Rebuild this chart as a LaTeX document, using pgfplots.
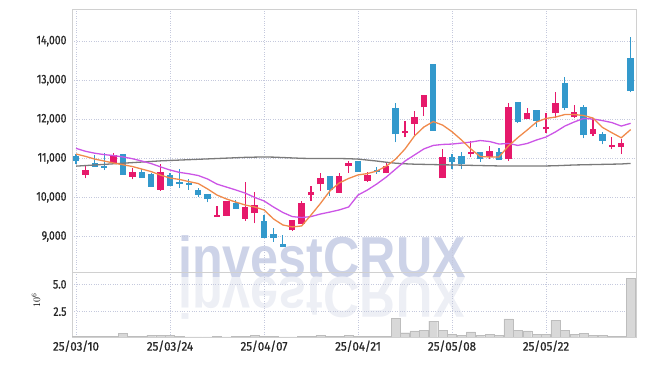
\documentclass[border=0pt]{standalone}
\usepackage{fontspec}
\usepackage{graphicx}
\usepackage{pgfplots}
\usepackage{pgfplotstable}
\pgfplotsset{compat=1.18}
\newfontfamily\tickfont{Fira Sans}[FakeStretch=0.84, FakeBold=0.8]
\newfontfamily\xtickfont{Fira Sans}[FakeStretch=0.93, FakeBold=0.8]
\newfontfamily\wmfont{Liberation Sans}
\definecolor{cpink}{HTML}{E6196B}
\definecolor{cblue}{HTML}{3399CC}
\definecolor{corange}{HTML}{F08A4B}
\definecolor{cpurple}{HTML}{CC55E6}
\definecolor{cgray}{HTML}{7A7A7A}
\definecolor{cgrid}{HTML}{C5C9DD}
\definecolor{cframe}{HTML}{D0D0D0}
\definecolor{wm}{HTML}{CDD3E8}
\definecolor{wmr}{HTML}{EDEFF5}
\definecolor{cvol}{HTML}{D8D8D8}
\definecolor{cvolb}{HTML}{BDBDBD}

% up candles (close > open)
\pgfplotstableread{
x O H L C
1 10580 10810 10490 10700
4 10870 11140 10870 11085
6 10530 10745 10460 10650
9 10190 10850 10165 10660
15 9500 9780 9500 9550
16 9525 9910 9520 9908
18 9455 10400 9400 9762
19 9600 10130 9338 9813
23 9166 9422 9140 9422
24 9320 9908 9320 9849
25 10054 10292 9908 10138
26 10335 10616 10171 10496
28 10120 10616 10120 10547
29 10810 10923 10632 10872
31 10427 10657 10400 10573
33 10616 10872 10616 10803
35 11655 11954 11537 11706
36 11885 12210 11596 12056
37 12304 12619 12082 12619
39 10488 11246 10488 11026
42 11110 11442 11026 11169
44 11026 11315 10982 11194
46 10974 12422 10930 12320
48 11997 12294 11997 12151
50 11740 12166 11655 11808
51 12151 12703 12023 12422
53 12064 12363 12023 12192
55 11621 12023 11570 11750
57 11284 11553 11230 11330
58 11284 11486 11110 11384
}\uptab

% down candles (close < open)
\pgfplotstableread{
x O H L C
0 11060 11100 10850 10930
2 10880 11075 10785 10785
3 10810 11130 10700 10760
5 11110 11110 10580 10580
7 10650 10730 10500 10500
8 10600 10620 10275 10275
10 10575 10615 10300 10300
11 10400 10720 10250 10350
12 10375 10460 10200 10320
13 10190 10235 10020 10060
14 10095 10095 9875 9950
17 9865 9935 9710 9710
20 9404 9550 8969 8969
21 9065 9225 8865 8970
22 8815 9040 8730 8740
27 10547 10547 10036 10189
30 10940 10940 10657 10657
32 10693 10770 10600 10640
34 12287 12407 11409 11614
38 13412 13412 11706 11706
40 11026 11110 10720 10898
41 11059 11169 10720 10854
43 11169 11169 10913 10974
45 11169 11256 10957 10957
47 12448 12448 11895 11928
49 12235 12235 11808 11962
52 12934 13072 12235 12279
54 12320 12363 11511 11596
56 11621 11680 11358 11450
59 13558 14095 12688 12721
}\downtab

% moving averages
\pgfplotstableread{
x ma5 ma20 ma120
0 11110 11255 10800
1 11050 11180 10815
2 10980 11130 10830
3 10930 11095 10845
4 10880 11070 10860
5 10835 11035 10875
6 10790 10990 10890
7 10725 10930 10905
8 10660 10865 10920
9 10570 10780 10935
10 10495 10700 10945
11 10460 10640 10955
12 10405 10605 10965
13 10355 10560 10975
14 10215 10470 10985
15 10060 10340 10995
16 9960 10265 11005
17 9880 10190 11015
18 9805 10110 11025
19 9755 10000 11030
20 9680 9910 11035
21 9450 9755 11030
22 9295 9615 11020
23 9245 9510 11010
24 9270 9485 11000
25 9550 9510 10995
26 9845 9575 10995
27 10165 9625 10995
28 10370 9680 10995
29 10485 9755 10990
30 10575 10060 10980
31 10610 10190 10955
32 10675 10345 10930
33 10800 10520 10900
34 10980 10725 10875
35 11240 10930 10860
36 11570 11085 10850
37 11800 11240 10845
38 11940 11330 10840
39 11850 11355 10835
40 11680 11365 10830
41 11470 11390 10825
42 11240 11415 10820
43 11045 11455 10815
44 11035 11430 10810
45 11035 11365 10805
46 11315 11380 10805
47 11530 11330 10805
48 11725 11380 10805
49 11930 11470 10805
50 12020 11545 10805
51 12055 11675 10810
52 12120 11825 10820
53 12120 11930 10830
54 12095 12020 10835
55 12030 12005 10840
56 11790 11965 10845
57 11655 11915 10850
58 11525 11825 10855
59 11735 11895 10870
}\matab

% volume in millions
\pgfplotstableread{
x v
0 0.21
1 0.21
2 0.21
3 0.21
4 0.22
5 0.52
6 0.21
7 0.21
8 0.33
9 0.33
10 0.30
11 0.21
12 0.20
13 0.20
14 0.20
15 0.21
16 0.20
17 0.21
18 0.24
19 0.33
20 0.24
21 0.21
22 0.20
23 0.20
24 0.21
25 0.22
26 0.33
27 0.22
28 0.24
29 0.33
30 0.26
31 0.21
32 0.21
33 0.27
34 1.89
35 0.57
36 0.73
37 0.82
38 1.64
39 0.82
40 0.45
41 0.33
42 0.64
43 0.33
44 0.45
45 0.33
46 1.83
47 0.79
48 0.73
49 0.45
50 0.45
51 1.73
52 0.82
53 0.45
54 0.54
55 0.36
56 0.36
57 0.27
58 0.27
59 5.55
}\voltab

\begin{document}
\begin{tikzpicture}
\useasboundingbox (0,0) rectangle (645bp,366bp);
% watermark
\node[anchor=base west, inner sep=0, text=wm, font=\wmfont\bfseries\fontsize{58}{60}\selectfont] at (178bp,88bp) {\scalebox{0.87}[1]{investCRUX}};
\node[anchor=base west, inner sep=0, text=wmr, font=\wmfont\bfseries\fontsize{58}{60}\selectfont] at (178bp,88bp) {\scalebox{0.87}[-1]{investCRUX}};

\pgfplotsset{
  common/.style={
    scale only axis, width=564bp, anchor=south west,
    xmin=-0.43, xmax=59.57,
    xtick={0,10,20,30,40,50},
    grid=major,
    major grid style={cgrid, dotted, line width=0.6bp},
    axis line style={cframe, line width=0.8bp},
    major tick length=0,
    tick label style={font=\tickfont\fontsize{12.5}{14}\selectfont, text=black!85},
    yticklabel style={xshift=-2bp},
    xticklabel style={font=\xtickfont\fontsize{12.5}{14}\selectfont},
    /pgf/number format/assume math mode=true,
    scaled y ticks=false,
  }
}

\begin{axis}[common, at={(72bp,94bp)}, height=263bp,
  ymin=8092, ymax=14820,
  ytick={9000,10000,11000,12000,13000,14000},
  xticklabels={},
  yticklabel style={/pgf/number format/.cd, fixed, 1000 sep={,}},
  clip=true]
% wicks
\addplot[draw=none, mark=none, forget plot, error bars/.cd, y dir=plus, y explicit, error mark=none,
  error bar style={draw=cpink, line width=1.2bp, solid}]
  table[x=x, y=L, y error plus expr=\thisrow{H}-\thisrow{L}] {\uptab};
\addplot[draw=none, mark=none, forget plot, error bars/.cd, y dir=plus, y explicit, error mark=none,
  error bar style={draw=cblue, line width=1.2bp, solid}]
  table[x=x, y=L, y error plus expr=\thisrow{H}-\thisrow{L}] {\downtab};
% bodies
\addplot[draw=none, mark=none, forget plot, error bars/.cd, y dir=plus, y explicit, error mark=none,
  error bar style={draw=cpink, line width=6.3bp, solid}]
  table[x=x, y=O, y error plus expr=\thisrow{C}-\thisrow{O}] {\uptab};
\addplot[draw=none, mark=none, forget plot, error bars/.cd, y dir=plus, y explicit, error mark=none,
  error bar style={draw=cblue, line width=6.3bp, solid}]
  table[x=x, y=C, y error plus expr=\thisrow{O}-\thisrow{C}] {\downtab};
% moving averages
\addplot[cgray, line width=1.3bp, mark=none] table[x=x, y=ma120] {\matab};
\addplot[cpurple, line width=1.3bp, mark=none] table[x=x, y=ma20] {\matab};
\addplot[corange, line width=1.3bp, mark=none] table[x=x, y=ma5] {\matab};
\end{axis}

\begin{axis}[common, at={(72bp,29bp)}, height=65bp,
  ymin=0.18, ymax=6.13,
  ytick={2.5,5},
  yticklabel style={/pgf/number format/.cd, fixed, fixed zerofill, precision=1},
  xticklabels={25/03/10,25/03/24,25/04/07,25/04/21,25/05/08,25/05/22}]
\addplot[ybar, bar width=9bp, fill=cvol, draw=cvolb, line width=0.4bp] table[x=x, y=v] {\voltab};
\end{axis}

\node[rotate=90, font=\fontsize{10}{12}\selectfont] at (36bp,66bp) {$10^6$};
\end{tikzpicture}
\end{document}
